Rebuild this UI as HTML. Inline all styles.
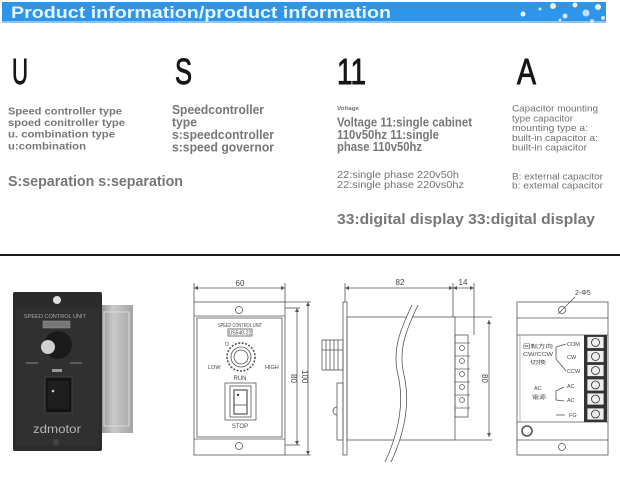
<!DOCTYPE html>
<html><head><meta charset="utf-8">
<style>
html,body{margin:0;padding:0;background:#fff;}
svg{display:block;}
</style></head><body>
<svg width="620" height="481" viewBox="0 0 620 481" xmlns="http://www.w3.org/2000/svg" font-family="Liberation Sans, Noto Sans CJK JP, sans-serif">
<defs>
<linearGradient id="hs" x1="0" y1="0" x2="1" y2="0">
<stop offset="0" stop-color="#8e8e8e"/><stop offset="0.4" stop-color="#c9c9c9"/><stop offset="1" stop-color="#a5a5a5"/>
</linearGradient>
<marker id="ar" viewBox="0 0 6 6" refX="6" refY="3" markerWidth="5" markerHeight="5" orient="auto-start-reverse">
<path d="M0,0 L6,3 L0,6 z" fill="#555"/>
</marker>
</defs>

<!-- header -->
<rect x="2" y="2" width="604" height="20" fill="#2d95ea"/>
<rect x="2" y="21" width="604" height="2" fill="#8cc6f3"/>
<g fill="#fff">
<circle cx="523" cy="14" r="2.5" opacity="0.9"/>
<circle cx="540" cy="9" r="1.5" opacity="0.8"/>
<circle cx="553" cy="6" r="3" opacity="0.9"/>
<circle cx="565" cy="16" r="2.5" opacity="0.8"/>
<circle cx="575" cy="5" r="2.5" opacity="0.9"/>
<circle cx="586" cy="13" r="3.5" opacity="0.7"/>
<circle cx="598" cy="7" r="3" opacity="0.9"/>
<circle cx="603" cy="18" r="2" opacity="0.8"/>
<circle cx="560" cy="20" r="1.5" opacity="0.7"/>
<circle cx="592" cy="21" r="2" opacity="0.7"/>
</g>
<text x="11" y="18" font-size="17" font-weight="bold" fill="#e6f6ff" textLength="380" lengthAdjust="spacingAndGlyphs">Product information/product information</text>

<!-- big letters -->
<g font-size="36" fill="#151515" stroke="#151515" stroke-width="0.9">
<text x="12" y="84" textLength="16" lengthAdjust="spacingAndGlyphs">U</text>
<text x="175" y="84" textLength="17" lengthAdjust="spacingAndGlyphs">S</text>
<text x="337" y="84" textLength="29" lengthAdjust="spacingAndGlyphs">11</text>
<text x="517" y="84" textLength="19" lengthAdjust="spacingAndGlyphs">A</text>
</g>

<!-- column texts -->
<g fill="#777" font-weight="bold">
<text x="8" y="114.5" font-size="10.5" textLength="114" lengthAdjust="spacingAndGlyphs">Speed controller type</text>
<text x="8" y="126" font-size="10.5" textLength="117" lengthAdjust="spacingAndGlyphs">spoed conitroller type</text>
<text x="8" y="137.5" font-size="10.5" textLength="107" lengthAdjust="spacingAndGlyphs">u. combination type</text>
<text x="8" y="149.5" font-size="10.5" textLength="78" lengthAdjust="spacingAndGlyphs">u:combination</text>

<text x="172" y="114" font-size="13" textLength="92" lengthAdjust="spacingAndGlyphs">Speedcontroller</text>
<text x="172" y="126.5" font-size="13" textLength="25" lengthAdjust="spacingAndGlyphs">type</text>
<text x="172" y="139" font-size="13" textLength="102" lengthAdjust="spacingAndGlyphs">s:speedcontroller</text>
<text x="172" y="151.5" font-size="13" textLength="102" lengthAdjust="spacingAndGlyphs">s:speed governor</text>

<text x="8" y="186" font-size="15" textLength="175" lengthAdjust="spacingAndGlyphs">S:separation s:separation</text>

<text x="337" y="126.5" font-size="12.5" textLength="135" lengthAdjust="spacingAndGlyphs">Voltage 11:single cabinet</text>
<text x="337" y="139" font-size="12.5" textLength="102" lengthAdjust="spacingAndGlyphs">110v50hz 11:single</text>
<text x="337" y="151" font-size="12.5" textLength="85" lengthAdjust="spacingAndGlyphs">phase 110v50hz</text>

<text x="337" y="224" font-size="15" textLength="258" lengthAdjust="spacingAndGlyphs">33:digital display 33:digital display</text>
</g>
<g fill="#727272">
<text x="337" y="110" font-size="5.5" font-weight="bold" textLength="22" lengthAdjust="spacingAndGlyphs">Voltage</text>
<text x="337" y="178" font-size="10.5" textLength="122" lengthAdjust="spacingAndGlyphs">22:single phase 220v50h</text>
<text x="337" y="188" font-size="10.5" textLength="127" lengthAdjust="spacingAndGlyphs">22:single phase 220vs0hz</text>

<text x="512" y="111.5" font-size="9.5" textLength="86" lengthAdjust="spacingAndGlyphs">Capacitor mounting</text>
<text x="512" y="121.5" font-size="9.5" textLength="61" lengthAdjust="spacingAndGlyphs">type capacitor</text>
<text x="512" y="131" font-size="9.5" textLength="76" lengthAdjust="spacingAndGlyphs">mounting type a:</text>
<text x="512" y="141" font-size="9.5" textLength="86" lengthAdjust="spacingAndGlyphs">built-in capacitor a:</text>
<text x="512" y="150.5" font-size="9.5" textLength="75" lengthAdjust="spacingAndGlyphs">built-in capacitor</text>
<text x="512" y="179.5" font-size="9.5" textLength="91" lengthAdjust="spacingAndGlyphs">B: external capacitor</text>
<text x="512" y="188.5" font-size="9.5" textLength="91" lengthAdjust="spacingAndGlyphs">b: extemal capacitor</text>
</g>

<!-- divider -->
<rect x="0" y="254" width="620" height="2" fill="#1a1a1a"/>

<!-- photo -->
<rect x="100" y="305" width="33" height="128" fill="url(#hs)"/>
<rect x="104" y="312" width="25" height="114" fill="none" stroke="#dcdcdc" stroke-width="1"/>
<rect x="13" y="292" width="89" height="159" rx="2" fill="#2b2b2b"/>
<rect x="16" y="308" width="83" height="138" fill="#303030"/>
<circle cx="57" cy="300" r="4" fill="#e0e0e0"/>
<text x="55" y="318" font-size="5" fill="#aaa" text-anchor="middle" textLength="62" lengthAdjust="spacingAndGlyphs">SPEED CONTROL UNIT</text>
<rect x="43" y="321" width="27" height="7" fill="#777" stroke="#999" stroke-width="0.5"/>
<circle cx="58" cy="345" r="14" fill="#1a1a1a"/>
<circle cx="48" cy="347" r="7" fill="#d0d0d0"/>
<line x1="26" y1="363" x2="38" y2="363" stroke="#888" stroke-width="1"/>
<line x1="70" y1="363" x2="82" y2="363" stroke="#888" stroke-width="1"/>
<rect x="52" y="369" width="10" height="3" fill="#999"/>
<rect x="45" y="377" width="27" height="36" fill="#141414" stroke="#444" stroke-width="1"/>
<rect x="48" y="381" width="21" height="28" fill="#1e1e1e"/>
<circle cx="53" cy="391" r="1.3" fill="#ccc"/>
<text x="33" y="433" font-size="12" fill="#b5b5b5" textLength="48" lengthAdjust="spacingAndGlyphs">zdmotor</text>
<circle cx="56" cy="442" r="3" fill="#444"/>

<!-- front view drawing -->
<g stroke="#555" stroke-width="0.8" fill="none">
<line x1="194" y1="283" x2="194" y2="302"/>
<line x1="285" y1="283" x2="285" y2="302"/>
<line x1="194" y1="288" x2="285" y2="288" marker-start="url(#ar)" marker-end="url(#ar)"/>
<rect x="194" y="302" width="91" height="153"/>
<rect x="197" y="318" width="85" height="119"/>
<line x1="194" y1="316" x2="285" y2="316"/>
<line x1="194" y1="439" x2="285" y2="439"/>
<circle cx="239" cy="310" r="3.5"/>
<circle cx="239" cy="446" r="3.5"/>
<rect x="228" y="329" width="24" height="7"/>
<circle cx="241" cy="357" r="14" stroke-dasharray="2 1.5" stroke-width="1.6"/>
<circle cx="241" cy="357" r="10"/>
<circle cx="241" cy="357" r="7"/>
<rect x="225" y="383" width="31" height="37"/>
<rect x="230" y="386" width="21" height="31"/>
<rect x="234" y="390" width="13" height="24" stroke-width="1.2"/>
<line x1="234" y1="405" x2="247" y2="405"/>
<line x1="285" y1="308" x2="300" y2="308"/>
<line x1="285" y1="445" x2="300" y2="445"/>
<line x1="297" y1="308" x2="297" y2="445" marker-start="url(#ar)" marker-end="url(#ar)"/>
<line x1="285" y1="302" x2="311" y2="302"/>
<line x1="285" y1="455" x2="311" y2="455"/>
<line x1="308" y1="302" x2="308" y2="455" marker-start="url(#ar)" marker-end="url(#ar)"/>
</g>
<g fill="#444">
<text x="240" y="286" font-size="8" text-anchor="middle">60</text>
<text x="240" y="327" font-size="5" text-anchor="middle" textLength="44" lengthAdjust="spacingAndGlyphs">SPEED CONTROL UNIT</text>
<text x="240" y="334.5" font-size="5" text-anchor="middle">US540-22</text>
<text x="225" y="346" font-size="5">O</text>
<text x="208" y="369" font-size="5.5">LOW</text>
<text x="265" y="369" font-size="5.5">HIGH</text>
<text x="240" y="380" font-size="6" text-anchor="middle">RUN</text>
<text x="240" y="428" font-size="6" text-anchor="middle">STOP</text>
<circle cx="238" cy="395" r="1.2"/>
<text transform="translate(291,374) rotate(90)" font-size="8">80</text>
<text transform="translate(302,370) rotate(90)" font-size="8">100</text>
</g>

<!-- side view drawing -->
<g stroke="#555" stroke-width="0.8" fill="none">
<line x1="345" y1="283" x2="345" y2="302"/>
<line x1="453" y1="283" x2="453" y2="317"/>
<line x1="474" y1="283" x2="474" y2="335"/>
<line x1="345" y1="288" x2="453" y2="288" marker-start="url(#ar)" marker-end="url(#ar)"/>
<line x1="453" y1="288" x2="474" y2="288" marker-start="url(#ar)" marker-end="url(#ar)"/>
<rect x="343" y="302" width="4" height="153"/>
<rect x="347" y="317" width="108" height="123"/>
<rect x="322" y="340" width="21" height="30"/>
<line x1="326" y1="340" x2="326" y2="370"/>
<line x1="330" y1="340" x2="330" y2="370"/>
<line x1="334" y1="340" x2="334" y2="370"/>
<line x1="338" y1="340" x2="338" y2="370"/>
<line x1="322" y1="350" x2="343" y2="350"/>
<rect x="337" y="383" width="6" height="57"/>
<path d="M337,407 a3,3 0 0 0 0,8"/>
<rect x="455" y="335" width="13" height="82"/>
<line x1="455" y1="317" x2="492" y2="317"/>
<line x1="455" y1="440" x2="492" y2="440"/>
<line x1="489" y1="320" x2="489" y2="437" marker-start="url(#ar)" marker-end="url(#ar)"/>
</g>
<g stroke="#555" stroke-width="0.7" fill="none">
<line x1="455" y1="343" x2="470" y2="343"/><circle cx="462" cy="348" r="2.5"/>
<line x1="455" y1="356" x2="470" y2="356"/><circle cx="462" cy="361" r="2.5"/>
<line x1="455" y1="369" x2="470" y2="369"/><circle cx="462" cy="374" r="2.5"/>
<line x1="455" y1="382" x2="470" y2="382"/><circle cx="462" cy="387" r="2.5"/>
<line x1="455" y1="395" x2="470" y2="395"/><circle cx="462" cy="400" r="2.5"/>
<line x1="455" y1="408" x2="470" y2="408"/>
</g>
<path d="M412,305 C400,330 392,350 398,375 C404,400 400,430 385,462 L391,462 C406,430 410,400 404,375 C398,350 406,330 418,305 Z" fill="#fff" stroke="none"/>
<g stroke="#555" stroke-width="0.8" fill="none">
<path d="M412,305 C400,330 392,350 398,375 C404,400 400,430 385,462"/>
<path d="M418,305 C406,330 398,350 404,375 C410,400 406,430 391,462"/>
</g>
<g fill="#444">
<text x="400" y="285" font-size="8" text-anchor="middle">82</text>
<text x="463" y="285" font-size="8" text-anchor="middle">14</text>
<text transform="translate(482,374) rotate(90)" font-size="8">80</text>
</g>

<!-- wiring view -->
<g stroke="#555" stroke-width="0.8" fill="none">
<rect x="517" y="302" width="91" height="153"/>
<line x1="517" y1="318" x2="608" y2="318"/>
<line x1="517" y1="335" x2="608" y2="335"/>
<line x1="517" y1="422" x2="608" y2="422"/>
<line x1="517" y1="440" x2="608" y2="440"/>
<line x1="520" y1="335" x2="520" y2="422" stroke="#aaa"/>
<circle cx="562" cy="310" r="3.5"/>
<line x1="558" y1="314" x2="575" y2="297"/>
<circle cx="527" cy="431" r="5" stroke-width="1.6"/>
<circle cx="562" cy="447" r="3.5"/>
<line x1="556" y1="347" x2="566" y2="344"/>
<line x1="556" y1="347" x2="556" y2="359"/>
<line x1="556" y1="359" x2="566" y2="371"/>
<path d="M564,387 L556,391 L556,400 L564,401"/>
<line x1="556" y1="415" x2="565" y2="415"/>
</g>
<rect x="584" y="335" width="23" height="87" fill="#333"/>
<g stroke="#333" stroke-width="0.8" fill="#eee">
<rect x="587" y="336.5" width="17" height="12"/><circle cx="595.5" cy="342.5" r="4" fill="none"/>
<rect x="587" y="350.5" width="17" height="12"/><circle cx="595.5" cy="356.5" r="4" fill="none"/>
<rect x="587" y="364.5" width="17" height="12"/><circle cx="595.5" cy="370.5" r="4" fill="none"/>
<rect x="587" y="379" width="17" height="12"/><circle cx="595.5" cy="385" r="4" fill="none"/>
<rect x="587" y="393" width="17" height="12"/><circle cx="595.5" cy="399" r="4" fill="none"/>
<rect x="587" y="408" width="17" height="12"/><circle cx="595.5" cy="414" r="4" fill="none"/>
</g>
<g fill="#444">
<text x="575" y="295" font-size="7">2-Φ5</text>
<text x="567" y="346" font-size="5.5">COM</text>
<text x="567" y="359" font-size="5.5">CW</text>
<text x="567" y="373" font-size="5.5">CCW</text>
<text x="567" y="388" font-size="5.5">AC</text>
<text x="567" y="402" font-size="5.5">AC</text>
<text x="569" y="417" font-size="5.5">FG</text>
<text x="523" y="348" font-size="5" textLength="30" lengthAdjust="spacingAndGlyphs">回転方向</text>
<text x="523" y="356" font-size="5" textLength="30" lengthAdjust="spacingAndGlyphs">CW/CCW</text>
<text x="530" y="364" font-size="5" textLength="16" lengthAdjust="spacingAndGlyphs">切換</text>
<text x="534" y="390" font-size="5.5">AC</text>
<text x="532" y="399" font-size="5" textLength="14" lengthAdjust="spacingAndGlyphs">電源</text>
</g>
</svg>
</body></html>
